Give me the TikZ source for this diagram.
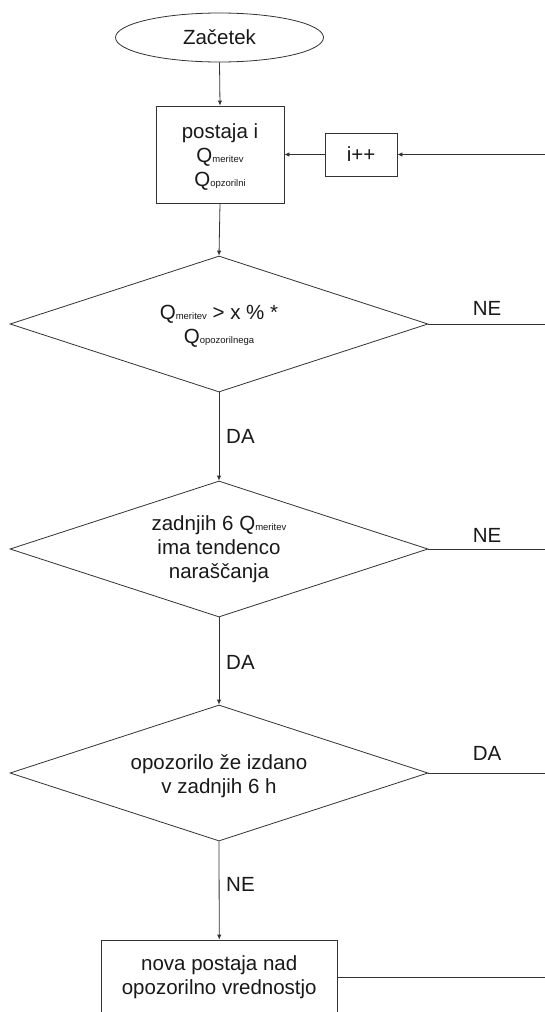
\documentclass[tikz,border=0pt]{standalone}
\usepackage{fontspec}
\setmainfont{Liberation Sans}
\usetikzlibrary{shapes.geometric,arrows.meta}
\newcommand{\mysub}[1]{{\fontsize{9.5}{10}\selectfont #1}}
\begin{document}
\begin{tikzpicture}[x=1pt,y=-1pt,
  every node/.style={font=\fontsize{20.5}{24}\selectfont, text=black!90, inner sep=0pt},
  shapeline/.style={draw=black!80, line width=0.8pt},
  startnode/.style={shapeline, ellipse, minimum width=208pt, minimum height=49pt},
  procbox/.style={shapeline, rectangle, align=center},
  decision/.style={shapeline, diamond, minimum width=418pt, minimum height=136pt},
  txt/.style={align=center},
  conn/.style={draw=black!80, line width=0.8pt},
  arr/.style={conn, -{Latex[length=5pt,width=4.5pt]}},
  lbl/.style={anchor=base},
  lblw/.style={anchor=base west}]
\useasboundingbox (0,0) rectangle (545,1012);
\fill[white] (0,0) rectangle (545,1012);

% nodes
\node[startnode] (start) at (219.5,37.5) {Začetek};
\node[procbox, minimum width=128pt, minimum height=97pt] (box1) at (220,154.5) {};
\node[txt] (box1t) at (220,157) {postaja i\\Q\mysub{meritev}\\Q\mysub{opzorilni}};
\node[procbox, minimum width=72pt, minimum height=43pt] (ipp) at (361,154.5) {i++};

\node[decision] (d1) at (219,324) {};
\node[txt] (d1t) at (219,326) {Q\mysub{meritev} > x \% *\\Q\mysub{opozorilnega}};

\node[decision] (d2) at (219,549) {};
\node[txt] (d2t) at (219,549) {zadnjih 6 Q\mysub{meritev}\\ima tendenco\\naraščanja};

\node[decision] (d3) at (219,773) {};
\node[txt] (d3t) at (219,776) {opozorilo že izdano\\v zadnjih 6 h};

\node[procbox, minimum width=235.5pt, minimum height=74pt] (box2) at (219.25,977) {};
\node[txt] (box2t) at (219.25,977) {nova postaja nad\\opozorilno vrednostjo};

% free ends at right margin
\coordinate (r0) at (545,154.5);
\coordinate (r1) at (545,324);
\coordinate (r2) at (545,549);
\coordinate (r3) at (545,773);
\coordinate (r4) at (545,977);

% connectors
\draw[arr] (start.south) -- (box1.north);
\draw[arr] (box1.south) -- (d1.north);
\draw[arr] (d1.south) -- (d2.north);
\draw[arr] (d2.south) -- (d3.north);
\draw[arr] (d3.south) -- (box2.north);
\draw[arr] (r0) -- (ipp.east);
\draw[arr] (ipp.west) -- (box1.east);
\draw[conn] (d1.east) -- (r1);
\draw[conn] (d2.east) -- (r2);
\draw[conn] (d3.east) -- (r3);
\draw[conn] (box2.east) -- (r4);

% labels
\node[lbl] (l1) at (487,315) {NE};
\node[lbl] (l2) at (487,542) {NE};
\node[lbl] (l3) at (487,760) {DA};
\node[lblw] (l4) at (226,443) {DA};
\node[lblw] (l5) at (226,669) {DA};
\node[lblw] (l6) at (226,891) {NE};
\end{tikzpicture}
\end{document}
